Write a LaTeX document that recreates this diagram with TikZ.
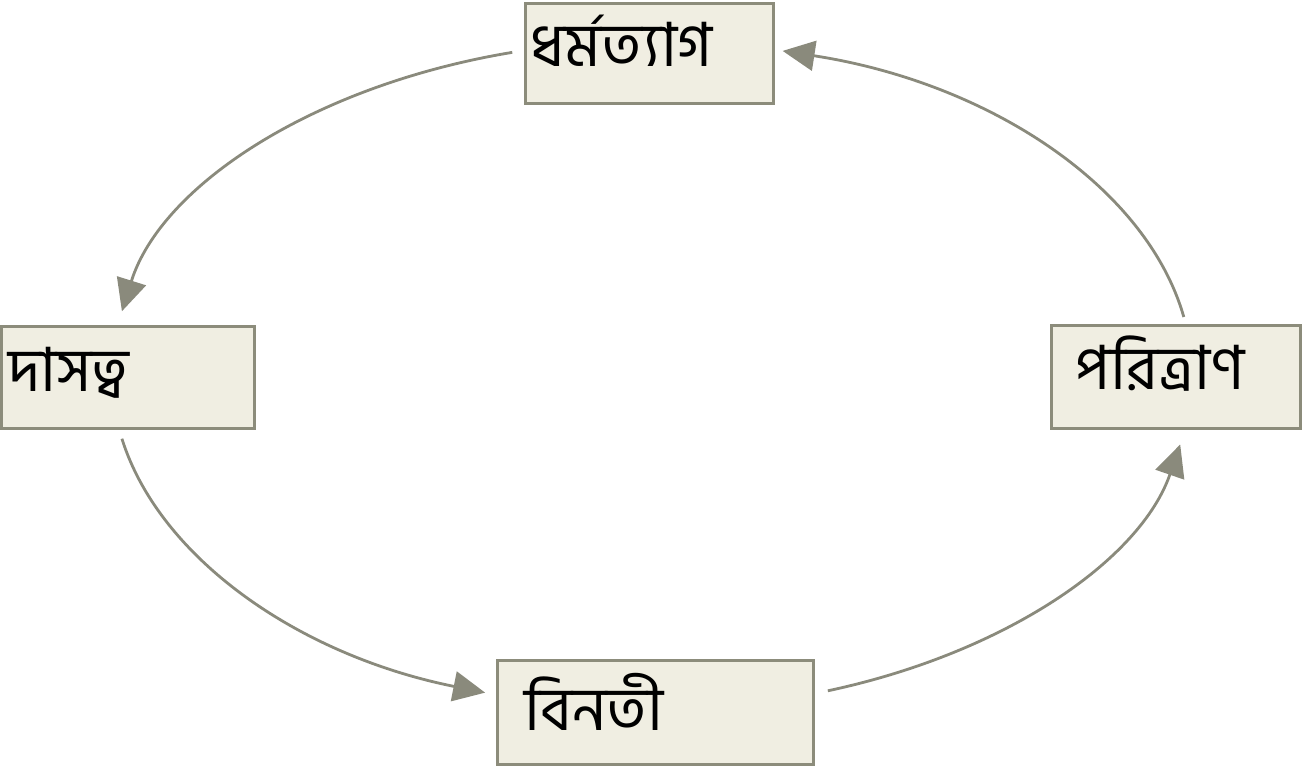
\documentclass[tikz,border=0pt]{standalone}
\usepackage{fontspec}
\newfontfamily\bnfont[Script=Bengali]{Hind Siliguri}
\usetikzlibrary{arrows.meta,calc}
\definecolor{boxfill}{HTML}{F0EEE2}
\definecolor{boxline}{HTML}{8C8C7B}
\definecolor{arrcol}{HTML}{8A8A7C}
\tikzset{
  box/.style={draw=boxline, fill=boxfill, line width=3.5pt, rectangle, inner sep=0pt},
  lbl/.style={anchor=base west, inner sep=0pt, font=\bnfont\fontsize{61}{66}\selectfont},
  arr/.style={draw=arrcol, line width=2.8pt, -{Triangle[length=32pt,width=30pt]}}
}
\begin{document}
\begin{tikzpicture}[x=1pt,y=1pt]
\useasboundingbox (0,0) rectangle (1304,780);
% boxes
\node[box, minimum width=248pt, minimum height=100pt] (top) at (649.5,726.5) {};
\node[box, minimum width=253pt, minimum height=102pt] (left) at (128,402.5) {};
\node[box, minimum width=249pt, minimum height=103pt] (right) at (1176,403) {};
\node[box, minimum width=316pt, minimum height=104pt] (bottom) at (655.5,67.5) {};
% labels
\node[lbl] (toptxt) at (530,713) {ধর্মত্যাগ};
\node[lbl] (lefttxt) at (8,388) {দাসত্ব};
\node[lbl] (righttxt) at (1075,390) {পরিত্রাণ};
\node[lbl] (bottomtxt) at (524,50) {বিনতী};
% ellipse-arc connectors
\coordinate (c) at (652,405);
\coordinate (s1) at ($(c)+(105:540 and 334)$);
\coordinate (s2) at ($(c)+(191:540 and 334)$);
\coordinate (s3) at ($(c)+(289:540 and 334)$);
\coordinate (s4) at ($(c)+(10:540 and 334)$);
\draw[arr] (s1) arc[start angle=105, end angle=169, x radius=540, y radius=334];
\draw[arr] (s2) arc[start angle=191, end angle=252, x radius=540, y radius=334];
\draw[arr] (s3) arc[start angle=289, end angle=348, x radius=540, y radius=334];
\draw[arr] (s4) arc[start angle=10, end angle=76, x radius=540, y radius=334];
\end{tikzpicture}
\end{document}
